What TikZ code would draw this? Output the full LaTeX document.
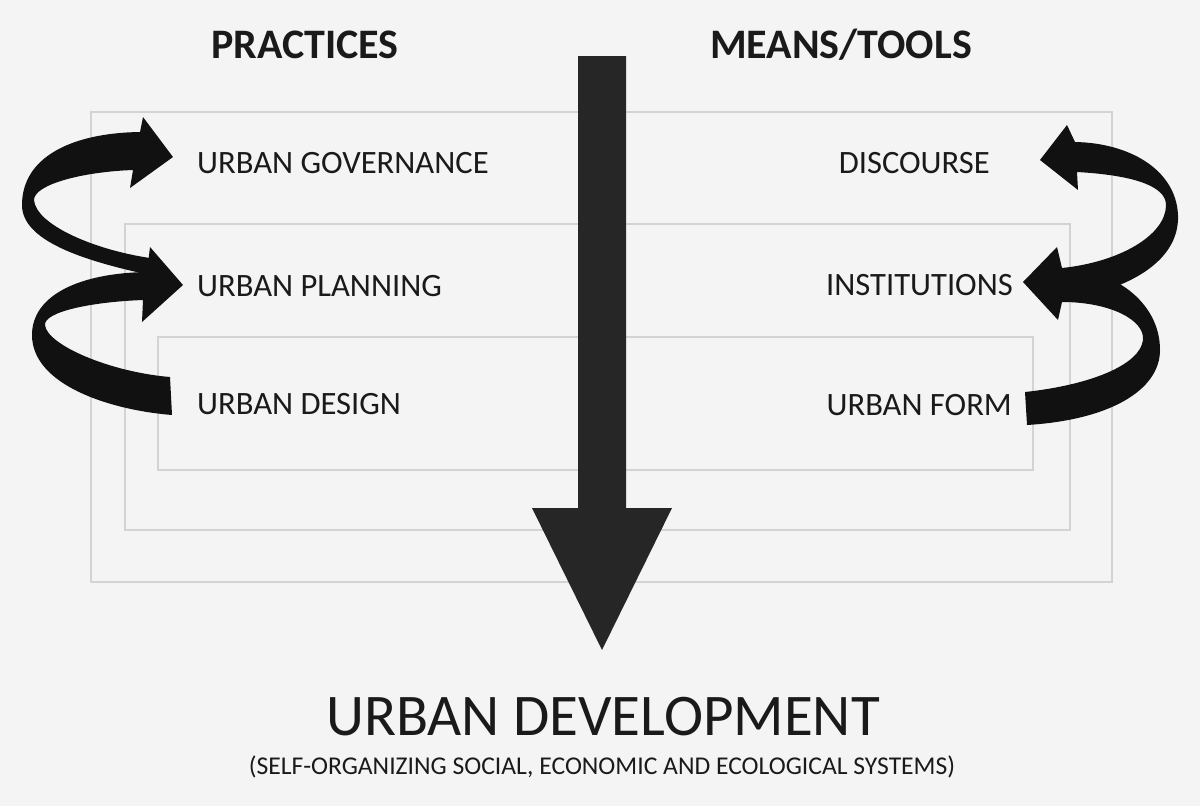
\documentclass[tikz,border=0pt]{standalone}
\usepackage{fontspec}
\setmainfont{Carlito}
\definecolor{bgc}{HTML}{F4F4F4}
\definecolor{framec}{HTML}{D3D3D3}
\definecolor{txtc}{HTML}{1A1A1A}
\definecolor{bigarrow}{HTML}{262626}
\definecolor{ribbon}{HTML}{111111}
\begin{document}
\begin{tikzpicture}[x=1pt,y=-1pt,
  frame/.style={draw=framec,line width=2pt},
  lbl/.style={inner sep=0pt,text=txtc,font=\fontsize{32.6}{32.6}\selectfont},
  ttl/.style={inner sep=0pt,text=txtc,font=\fontsize{42}{42}\selectfont\bfseries},
  rib/.style={fill=ribbon,draw=none}]
\fill[bgc] (0,0) rectangle (1200,806);
\useasboundingbox (0,0) rectangle (1200,806);
% frames
\draw[frame] (91,112) rectangle (1112,582);
\draw[frame] (125,224) rectangle (1070,530);
\draw[frame] (158,337) rectangle (1033,470);
% big arrow
\fill[bigarrow] (578,56) -- (626,56) -- (626,508) -- (672,508) -- (602,650) -- (532,508) -- (578,508) -- cycle;
% titles
\node[ttl,anchor=base] (practices) at (305,58) {PRACTICES};
\node[ttl,anchor=base] (means) at (841,58) {MEANS/TOOLS};
% left labels
\node[lbl,anchor=base west] (gov) at (197,173) {URBAN GOVERNANCE};
\node[lbl,anchor=base west] (plan) at (197,296) {URBAN PLANNING};
\node[lbl,anchor=base west] (design) at (197,414) {URBAN DESIGN};
% right labels
\node[lbl,anchor=base east] (disc) at (990,173) {DISCOURSE};
\node[lbl,anchor=base east] (inst) at (1013,295) {INSTITUTIONS};
\node[lbl,anchor=base east] (form) at (1012,415) {URBAN FORM};
% bottom
\node[inner sep=0pt,text=txtc,anchor=base,font=\fontsize{59}{59}\selectfont] (dev) at (603,735) {URBAN DEVELOPMENT};
\node[inner sep=0pt,text=txtc,anchor=base,font=\fontsize{25.6}{25.6}\selectfont] (sub) at (602,774) {(SELF-ORGANIZING SOCIAL, ECONOMIC AND ECOLOGICAL SYSTEMS)};
% left ribbons
\fill[rib] (150,275) .. controls (80,260) and (22,240) .. (22,205)
  .. controls (22,158) and (70,133) .. (140,132)
  -- (143,117) -- (173,157) -- (130,188) -- (133,170)
  .. controls (80,172) and (34,185) .. (34,200)
  .. controls (36,225) and (95,250) .. (150,258) -- cycle;
\fill[rib] (172,415) .. controls (110,410) and (32,385) .. (32,335)
  .. controls (32,295) and (80,273) .. (147,272)
  -- (150,247) -- (183,285) -- (142,322) -- (143,300)
  .. controls (90,302) and (44,312) .. (45,325)
  .. controls (47,345) and (110,372) .. (170,377) -- cycle;
% right ribbons
\fill[rib] (1062,300) .. controls (1120,292) and (1180,265) .. (1178,215)
  .. controls (1176,170) and (1130,143) .. (1075,142)
  -- (1067,125) -- (1040,160) -- (1078,190) -- (1077,172)
  .. controls (1130,175) and (1166,185) .. (1166,205)
  .. controls (1166,235) and (1120,262) .. (1062,268) -- cycle;
\fill[rib] (1027,425) .. controls (1110,420) and (1160,390) .. (1160,350)
  .. controls (1160,300) and (1110,268) .. (1062,268)
  -- (1057,247) -- (1023,282) -- (1058,320) -- (1062,302)
  .. controls (1110,302) and (1145,320) .. (1143,340)
  .. controls (1140,365) and (1090,385) .. (1025,392) -- cycle;
\end{tikzpicture}
\end{document}
